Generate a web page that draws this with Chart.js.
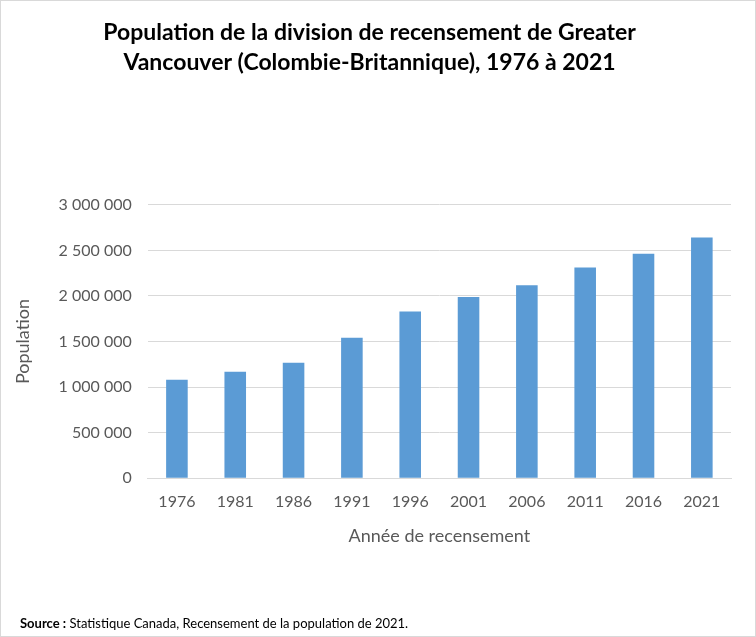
<!DOCTYPE html>
<html>
<head>
<meta charset="utf-8">
<script src="https://cdn.jsdelivr.net/npm/chart.js@4/dist/chart.umd.min.js"></script>
<style>
  html, body { margin: 0; padding: 0; background: #fff; }
  #wrap {
    position: relative;
    width: 754px;
    height: 635px;
    border: 1px solid #d9d9d9;
    font-family: Lato, "Open Sans", sans-serif;
  }
  #chart { position: absolute; left: 0; top: 0; }
  #source {
    position: absolute;
    left: 19px;
    top: 614px;
    font-size: 13px;
    color: #000;
  }
</style>
</head>
<body>
<div id="wrap">
  <canvas id="chart" width="754" height="635"></canvas>
  <div id="source"><b>Source :</b> Statistique Canada, Recensement de la population de 2021.</div>
</div>
<script>
// census years and Greater Vancouver population
const years = ["1976", "1981", "1986", "1991", "1996", "2001", "2006", "2011", "2016", "2021"];
const population = [1080000, 1169000, 1267000, 1542000, 1830000, 1987000, 2116000, 2313000, 2463000, 2642000];
const yTicks = [0, 500000, 1000000, 1500000, 2000000, 2500000, 3000000];

const titleLines = [
  "Population de la division de recensement de Greater",
  "Vancouver (Colombie-Britannique), 1976 à 2021",
];

const COLORS = {
  bar: "#5B9BD5",
  grid: "#D9D9D9",
  text: "#595959",
};

function fmtSpace(n) {
  return String(n).replace(/\B(?=(\d{3})+(?!\d))/g, " ");
}

new Chart(document.getElementById("chart"), {
  type: "bar",
  data: {
    labels: years,
    datasets: [
      {
        data: population,
        backgroundColor: COLORS.bar,
        barPercentage: 0.37,
        categoryPercentage: 1,
      },
    ],
  },
  options: {
    responsive: false,
    animation: false,
    layout: { padding: { left: 7, right: 24, top: 17, bottom: 85 } },
    plugins: {
      legend: { display: false },
      tooltip: { enabled: false },
      title: {
        display: true,
        text: titleLines,
        color: "#000",
        font: { family: "Lato", size: 23, weight: "bold", lineHeight: 1.3 },
        padding: { top: 0, bottom: 127 },
      },
    },
    scales: {
      x: {
        grid: { display: false, drawTicks: false },
        border: { color: COLORS.grid },
        ticks: { color: COLORS.text, font: { family: "Lato", size: 16 }, padding: 14 },
        title: {
          display: true,
          text: "Année de recensement",
          color: COLORS.text,
          font: { family: "Lato", size: 18 },
          padding: { top: 0 },
        },
      },
      y: {
        min: 0,
        max: 3000000,
        afterBuildTicks: (axis) => {
          axis.ticks = yTicks.map((v) => ({ value: v }));
        },
        grid: { color: COLORS.grid, drawTicks: false },
        border: { display: false },
        ticks: {
          color: COLORS.text,
          font: { family: "Lato", size: 16 },
          padding: 16,
          callback: (v) => fmtSpace(v),
        },
        title: {
          display: true,
          text: "Population",
          color: COLORS.text,
          font: { family: "Lato", size: 18 },
          padding: { bottom: 9 },
        },
      },
    },
  },
});
</script>
</body>
</html>
